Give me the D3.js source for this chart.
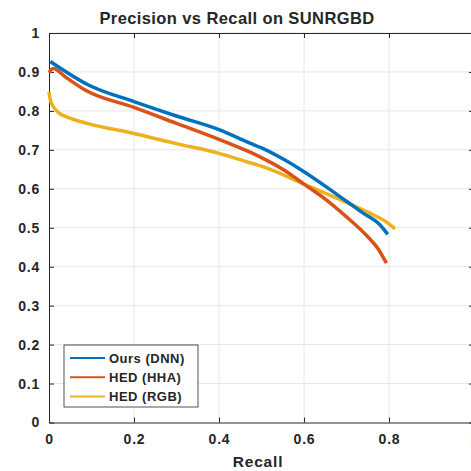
<!DOCTYPE html>
<html>
<head>
<meta charset="utf-8">
<script src="https://cdn.jsdelivr.net/npm/d3@7"></script>
<style>
  body { margin: 0; background: #fff; }
  text { font-family: "Liberation Sans", Arial, Helvetica, sans-serif; font-weight: bold; fill: #262626; }
</style>
</head>
<body>
<svg id="chart" width="471" height="471"></svg>
<script>
// series
const oursRecall = [0.003, 0.094, 0.2, 0.3, 0.4, 0.473, 0.5, 0.55, 0.6, 0.65, 0.7, 0.74, 0.779, 0.797];
const oursPrecision = [0.927, 0.866, 0.824, 0.787, 0.752, 0.717, 0.705, 0.677, 0.644, 0.607, 0.568, 0.537, 0.507, 0.483];

const hhaRecall = [0.0, 0.01, 0.04, 0.086, 0.2, 0.3, 0.4, 0.473, 0.5, 0.55, 0.6, 0.653, 0.7, 0.75, 0.775, 0.794];
const hhaPrecision = [0.898, 0.909, 0.886, 0.853, 0.809, 0.768, 0.727, 0.694, 0.68, 0.65, 0.612, 0.571, 0.528, 0.477, 0.445, 0.409];

const rgbRecall = [0.0, 0.004, 0.02, 0.051, 0.09, 0.2, 0.3, 0.4, 0.473, 0.5, 0.6, 0.7, 0.75, 0.8, 0.814];
const rgbPrecision = [0.849, 0.824, 0.798, 0.781, 0.768, 0.742, 0.716, 0.691, 0.667, 0.658, 0.612, 0.565, 0.54, 0.51, 0.497];

const seriesNames = ['Ours (DNN)', 'HED (HHA)', 'HED (RGB)'];
const seriesColors = ['#0072BD', '#D95319', '#EDB120'];

const xTicks = [0, 0.2, 0.4, 0.6, 0.8, 1];
const yTicks = [0, 0.1, 0.2, 0.3, 0.4, 0.5, 0.6, 0.7, 0.8, 0.9, 1];

const svg = d3.select('#chart');
const plotL = 49, plotR = 474, plotT = 33, plotB = 422.5;

const x = d3.scaleLinear().domain([0, 1]).range([plotL, plotR]);
const y = d3.scaleLinear().domain([0, 1]).range([plotB, plotT]);

// grid
svg.append('g').selectAll('line')
  .data(xTicks.slice(1))
  .enter().append('line')
    .attr('x1', d => x(d)).attr('x2', d => x(d))
    .attr('y1', plotT).attr('y2', plotB)
    .attr('stroke', '#e6e6e6').attr('stroke-width', 1);
svg.append('g').selectAll('line')
  .data(yTicks.slice(1))
  .enter().append('line')
    .attr('x1', plotL).attr('x2', plotR)
    .attr('y1', d => y(d)).attr('y2', d => y(d))
    .attr('stroke', '#e6e6e6').attr('stroke-width', 1);

// axes (ticks point inward, box on)
svg.append('g').attr('transform', `translate(0,${plotB})`)
  .call(d3.axisBottom(x).tickValues(xTicks).tickFormat(d3.format('')).tickSizeInner(-5).tickSizeOuter(0).tickPadding(12));
svg.append('g').attr('transform', `translate(${plotL},0)`)
  .call(d3.axisLeft(y).tickValues(yTicks).tickFormat(d3.format('')).tickSizeInner(-5).tickSizeOuter(0).tickPadding(9));
svg.append('g').attr('transform', `translate(0,${plotT})`)
  .call(d3.axisTop(x).tickValues(xTicks).tickFormat('').tickSizeInner(-5).tickSizeOuter(0));
svg.append('g').attr('transform', `translate(${plotR},0)`)
  .call(d3.axisRight(y).tickValues(yTicks).tickFormat('').tickSizeInner(-5).tickSizeOuter(0));

svg.selectAll('.domain').attr('stroke', '#262626');
svg.selectAll('.tick line').attr('stroke', '#262626');
svg.selectAll('.tick text').style('font-size', '14px').style('font-weight', 'bold')
  .style('letter-spacing', '0.8px')
  .style('font-family', '"Liberation Sans", Arial, sans-serif').attr('fill', '#262626');

// curves
const allSeries = [
  oursRecall.map((r, i) => [r, oursPrecision[i]]),
  hhaRecall.map((r, i) => [r, hhaPrecision[i]]),
  rgbRecall.map((r, i) => [r, rgbPrecision[i]]),
];
const path = d3.line().x(d => x(d[0])).y(d => y(d[1])).curve(d3.curveMonotoneX);

[2, 1, 0].forEach(i => {
  svg.append('path')
    .datum(allSeries[i])
    .attr('d', path)
    .attr('fill', 'none')
    .attr('stroke', seriesColors[i])
    .attr('stroke-width', 3.5)
    .attr('stroke-linejoin', 'round');
});

// title and label
svg.append('text').attr('x', 237).attr('y', 24).attr('text-anchor', 'middle')
  .style('font-size', '16.5px').style('letter-spacing', '0.4px').text('Precision vs Recall on SUNRGBD');
svg.append('text').attr('x', 258).attr('y', 467).attr('text-anchor', 'middle')
  .style('font-size', '15.5px').style('letter-spacing', '0.8px').text('Recall');

// legend
const legend = svg.append('g').attr('transform', 'translate(64,345)');
legend.append('rect').attr('width', 134).attr('height', 62)
  .attr('fill', '#fff').attr('stroke', '#262626').attr('stroke-width', 0.8);
seriesNames.forEach((name, i) => {
  const row = legend.append('g').attr('transform', `translate(0,${13 + i * 19.3})`);
  row.append('line').attr('x1', 6).attr('x2', 41).attr('y1', 0).attr('y2', 0)
    .attr('stroke', seriesColors[i]).attr('stroke-width', 2);
  row.append('text').attr('x', 45).attr('y', 4.5).style('font-size', '13px')
    .style('letter-spacing', '0.5px').text(name);
});
</script>
</body>
</html>
